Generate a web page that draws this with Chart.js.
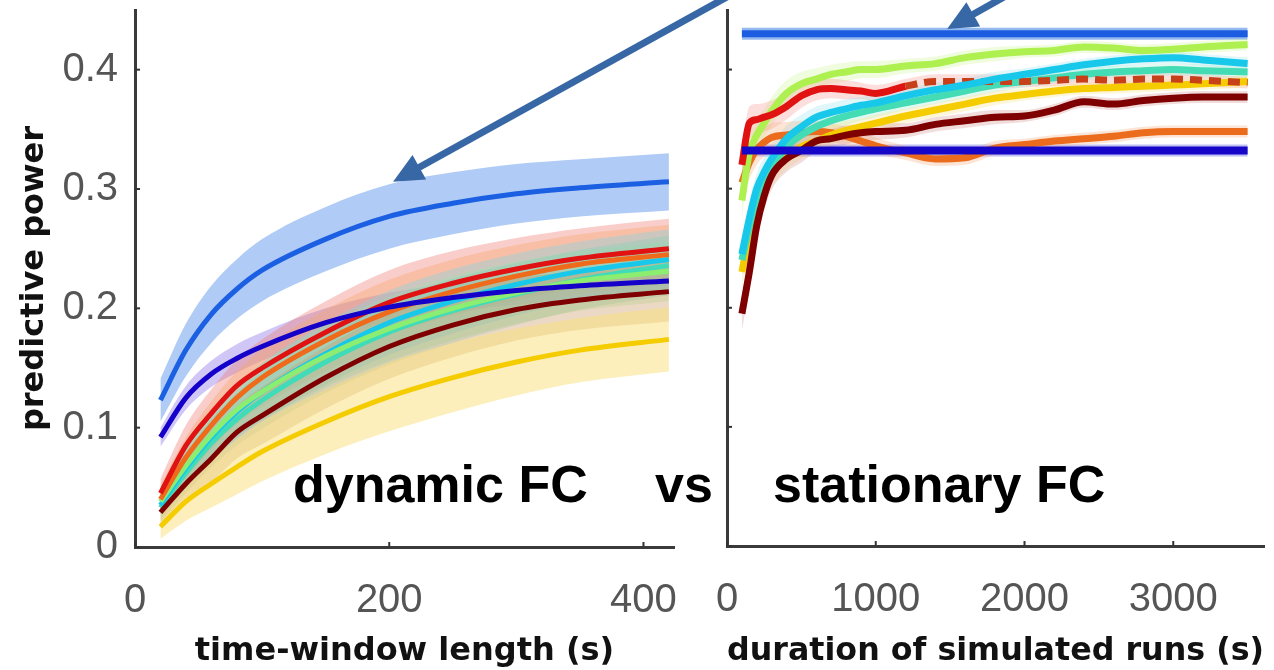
<!DOCTYPE html>
<html>
<head>
<meta charset="utf-8">
<script src="https://cdn.jsdelivr.net/npm/chart.js@4.4.0/dist/chart.umd.min.js"></script>
<style>
  html, body { margin: 0; padding: 0; background: #fff; }
  body { width: 1274px; height: 670px; position: relative; overflow: hidden; }
  #caja-dinamica { position: absolute; left: 0; top: 0; width: 700px; height: 670px; }
  #caja-estacionaria { position: absolute; left: 700px; top: 0; width: 574px; height: 670px; }
  .rotulo { position: absolute; top: 458px; font: bold 52px "Liberation Sans", Arial, sans-serif; line-height: 52px; color: #000; white-space: nowrap; }
  #flechas { position: absolute; left: 0; top: 0; pointer-events: none; }
</style>
</head>
<body>
<div id="caja-dinamica"><canvas id="graficaDinamica"></canvas></div>
<div id="caja-estacionaria"><canvas id="graficaEstacionaria"></canvas></div>
<div class="rotulo" style="left:293px">dynamic FC</div>
<div class="rotulo" style="left:655px">vs</div>
<div class="rotulo" style="left:773px">stationary FC</div>
<canvas id="flechas" width="1274" height="670"></canvas>
<script>
// --- Datos ---

// Panel izquierdo: longitud de la ventana (s)
const ventanas = [20, 40, 60, 80, 100, 150, 200, 250, 300, 350, 420];
const dinAzulClaro  = [0.123, 0.165, 0.195, 0.216, 0.232, 0.258, 0.277, 0.288, 0.296, 0.301, 0.306];
const dinAzulOscuro = [0.092, 0.125, 0.145, 0.158, 0.168, 0.188, 0.201, 0.209, 0.215, 0.219, 0.223];
const dinRojo       = [0.045, 0.085, 0.112, 0.135, 0.150, 0.180, 0.205, 0.221, 0.233, 0.242, 0.250];
const dinNaranja    = [0.040, 0.075, 0.102, 0.125, 0.142, 0.173, 0.197, 0.214, 0.227, 0.237, 0.245];
const dinVerde      = [0.038, 0.068, 0.094, 0.115, 0.130, 0.160, 0.183, 0.200, 0.213, 0.223, 0.231];
const dinCian       = [0.035, 0.066, 0.092, 0.113, 0.130, 0.162, 0.188, 0.206, 0.220, 0.231, 0.241];
const dinAgua       = [0.033, 0.062, 0.087, 0.107, 0.123, 0.155, 0.180, 0.198, 0.212, 0.224, 0.236];
const dinGranate    = [0.029, 0.053, 0.074, 0.096, 0.110, 0.142, 0.168, 0.186, 0.199, 0.207, 0.214];
const dinOro        = [0.017, 0.038, 0.053, 0.067, 0.080, 0.105, 0.126, 0.142, 0.155, 0.165, 0.174];
// semianchos de las bandas sombreadas
const errAzulClaro  = [0.018, 0.022, 0.024, 0.025, 0.026, 0.027, 0.027, 0.026, 0.025, 0.024, 0.024];
const errAzulOscuro = [0.008, 0.010, 0.011, 0.012, 0.012, 0.012, 0.012, 0.012, 0.012, 0.011, 0.011];
const errGrupo      = [0.012, 0.017, 0.020, 0.022, 0.024, 0.026, 0.027, 0.027, 0.026, 0.025, 0.025];
const errOro        = [0.010, 0.016, 0.020, 0.023, 0.025, 0.027, 0.029, 0.029, 0.028, 0.027, 0.027];

// Panel derecho: duracion de las corridas simuladas (s)
const duraciones = [100, 150, 200, 250, 300, 400, 500, 600, 700, 800, 900, 1000, 1200, 1400, 1600, 1800, 2000, 2200, 2400, 2600, 2800, 3000, 3200, 3500];
const estAzulClaro  = [0.430, 0.430, 0.430, 0.430, 0.430, 0.430, 0.430, 0.430, 0.430, 0.430, 0.430, 0.430, 0.430, 0.430, 0.430, 0.430, 0.430, 0.430, 0.430, 0.430, 0.430, 0.430, 0.430, 0.430];
const estAzulOscuro = [0.332, 0.332, 0.332, 0.332, 0.332, 0.332, 0.332, 0.332, 0.332, 0.332, 0.332, 0.332, 0.332, 0.332, 0.332, 0.332, 0.332, 0.332, 0.332, 0.332, 0.332, 0.332, 0.332, 0.332];
const estVerde   = [0.290, 0.330, 0.345, 0.355, 0.365, 0.380, 0.388, 0.392, 0.396, 0.398, 0.400, 0.400, 0.403, 0.405, 0.410, 0.413, 0.415, 0.416, 0.419, 0.418, 0.416, 0.417, 0.419, 0.421];
const estCian    = [0.245, 0.275, 0.300, 0.314, 0.325, 0.342, 0.352, 0.360, 0.364, 0.367, 0.370, 0.372, 0.378, 0.383, 0.387, 0.392, 0.396, 0.400, 0.404, 0.407, 0.409, 0.410, 0.408, 0.405];
const estAgua    = [0.240, 0.268, 0.292, 0.308, 0.318, 0.335, 0.345, 0.352, 0.357, 0.361, 0.364, 0.367, 0.372, 0.377, 0.382, 0.387, 0.390, 0.393, 0.396, 0.398, 0.399, 0.400, 0.399, 0.398];
const estRojo    = [0.320, 0.355, 0.358, 0.360, 0.362, 0.369, 0.378, 0.383, 0.384, 0.383, 0.382, 0.380, 0.386, 0.390, 0.390, 0.390, 0.390, 0.391, 0.392, 0.391, 0.392, 0.392, 0.391, 0.389];
const estNaranja = [0.305, 0.322, 0.333, 0.339, 0.343, 0.345, 0.347, 0.348, 0.347, 0.344, 0.340, 0.336, 0.330, 0.325, 0.326, 0.334, 0.337, 0.340, 0.342, 0.344, 0.347, 0.348, 0.348, 0.348];
const estOro     = [0.230, 0.262, 0.290, 0.305, 0.315, 0.327, 0.335, 0.340, 0.345, 0.349, 0.352, 0.355, 0.361, 0.366, 0.371, 0.376, 0.379, 0.382, 0.384, 0.385, 0.386, 0.387, 0.388, 0.390];
const estGranate = [0.195, 0.230, 0.269, 0.294, 0.311, 0.325, 0.332, 0.340, 0.342, 0.345, 0.347, 0.348, 0.349, 0.354, 0.357, 0.360, 0.361, 0.366, 0.373, 0.371, 0.374, 0.376, 0.377, 0.377];
const errEst     = [0.014, 0.014, 0.013, 0.012, 0.012, 0.011, 0.010, 0.009, 0.008, 0.008, 0.007, 0.007, 0.006, 0.006, 0.006, 0.006, 0.005, 0.005, 0.005, 0.005, 0.005, 0.005, 0.005, 0.005];
const errPlano   = [0.005, 0.005, 0.005, 0.005, 0.005, 0.005, 0.005, 0.005, 0.005, 0.005, 0.005, 0.005, 0.005, 0.005, 0.005, 0.005, 0.005, 0.005, 0.005, 0.005, 0.005, 0.005, 0.005, 0.005];

// Marcas de los ejes
const ticksVentana = [0, 200, 400];
const etiquetasVentana = ['0', '200', '400'];
const ticksDuracion = [0, 1000, 2000, 3000];
const etiquetasDuracion = ['0', '1000', '2000', '3000'];
const ticksPoder = [0, 0.1, 0.2, 0.3, 0.4];
const etiquetasPoder = ['0', '0.1', '0.2', '0.3', '0.4'];

// --- Construccion de datasets: banda (superior/inferior) + linea ---
function construirDatasets(xs, series, tension) {
    const datasets = [];
    const puntos = ys => xs.map((x, i) => ({ x: x, y: ys[i] }));
    series.forEach(s => {
        if (s.err) {
            datasets.push({
                data: puntos(s.y.map((v, i) => v + s.err[i])),
                borderWidth: 0, pointRadius: 0, fill: false, order: 20,
                tension: tension, cubicInterpolationMode: 'monotone'
            });
            datasets.push({
                data: puntos(s.y.map((v, i) => v - s.err[i])),
                borderWidth: 0, pointRadius: 0, fill: '-1', backgroundColor: s.banda, order: 20,
                tension: tension, cubicInterpolationMode: 'monotone'
            });
        }
        datasets.push({
            data: puntos(s.y),
            borderColor: s.color, borderWidth: s.grosor, pointRadius: 0, fill: false,
            order: s.orden, tension: tension, cubicInterpolationMode: 'monotone',
            borderCapStyle: 'butt', borderJoinStyle: 'round',
            segment: s.segment
        });
    });
    return datasets;
}

// marcas cortas hacia dentro (estilo MATLAB)
const marcasInternas = {
    id: 'marcasInternas',
    afterDraw(chart) {
        const { ctx, chartArea, scales } = chart;
        ctx.save();
        ctx.strokeStyle = '#333';
        ctx.lineWidth = 2;
        scales.x.ticks.forEach(t => {
            const px = scales.x.getPixelForValue(t.value);
            ctx.beginPath(); ctx.moveTo(px, chartArea.bottom); ctx.lineTo(px, chartArea.bottom - 5); ctx.stroke();
        });
        scales.y.ticks.forEach(t => {
            const py = scales.y.getPixelForValue(t.value);
            ctx.beginPath(); ctx.moveTo(chartArea.left, py); ctx.lineTo(chartArea.left + 5, py); ctx.stroke();
        });
        ctx.restore();
    }
};

const fuenteTicks = { family: '"Liberation Sans", Arial, sans-serif', size: 40 };
const fuenteTitulo = { family: '"DejaVu Sans", sans-serif', weight: 'bold', size: 32, lineHeight: 1 };
const bordeEje = { display: true, color: '#3a3a3a', width: 3 };

function opcionesEscalas(cfg) {
    return {
        x: {
            type: 'linear', min: 0, max: cfg.xMax,
            afterBuildTicks: s => { s.ticks = cfg.xTicks.map(v => ({ value: v })); },
            afterFit: s => { s.height = cfg.altoX; s.paddingLeft = 0; s.paddingRight = 0; },
            grid: { display: false },
            border: bordeEje,
            ticks: { font: fuenteTicks, color: '#555', padding: 22, maxRotation: 0, autoSkip: false,
                     callback: (v, i) => cfg.xEtiquetas[i] },
            title: { display: true, text: cfg.xTitulo, font: fuenteTitulo, color: '#111', padding: { top: 0, bottom: 2 } }
        },
        y: {
            min: 0, max: 0.45,
            afterBuildTicks: s => { s.ticks = ticksPoder.map(v => ({ value: v })); },
            afterFit: s => { s.width = cfg.anchoY; s.paddingTop = 0; s.paddingBottom = 0; },
            grid: { display: false },
            border: bordeEje,
            ticks: { display: cfg.conEtiquetasY, font: fuenteTicks, color: '#555', padding: 9,
                     callback: (v, i) => etiquetasPoder[i] },
            title: { display: cfg.conEtiquetasY, text: 'predictive power',
                     font: fuenteTitulo, color: '#111', padding: { top: 19, bottom: 0 } }
        }
    };
}

// 1. Panel de FC dinamica
const seriesDinamicas = [
    { y: dinOro,        err: errOro,        color: '#f4cc00', banda: 'rgba(250,224,120,0.5)',  grosor: 5, orden: 9 },
    { y: dinGranate,    err: errGrupo,      color: '#7e0000', banda: 'rgba(205,160,110,0.4)',  grosor: 5, orden: 2 },
    { y: dinAgua,       err: errGrupo,      color: '#40dcb8', banda: 'rgba(120,210,180,0.3)',  grosor: 5, orden: 7 },
    { y: dinCian,       err: errGrupo,      color: '#18c8ea', banda: 'rgba(120,215,235,0.35)', grosor: 5, orden: 6 },
    { y: dinVerde,      err: errGrupo,      color: '#8cee70', banda: 'rgba(160,235,140,0.3)',  grosor: 5, orden: 5 },
    { y: dinNaranja,    err: errGrupo,      color: '#ef6a1a', banda: 'rgba(245,165,100,0.35)', grosor: 5, orden: 4 },
    { y: dinRojo,       err: errGrupo,      color: '#e01212', banda: 'rgba(240,130,120,0.4)',  grosor: 5, orden: 3 },
    { y: dinAzulOscuro, err: errAzulOscuro, color: '#1400c8', banda: 'rgba(150,130,235,0.45)', grosor: 5, orden: 1 },
    { y: dinAzulClaro,  err: errAzulClaro,  color: '#1b5fe3', banda: 'rgba(150,185,242,0.75)', grosor: 5, orden: 1 }
];

const graficaDinamica = new Chart(document.getElementById('graficaDinamica'), {
    type: 'line',
    data: { datasets: construirDatasets(ventanas, seriesDinamicas, 0.4) },
    options: {
        responsive: true, maintainAspectRatio: false, animation: false, events: [],
        layout: { padding: { left: 0, top: 10, right: 26, bottom: 0 } },
        plugins: { legend: { display: false }, tooltip: { enabled: false } },
        scales: opcionesEscalas({
            xMax: 424, xTicks: ticksVentana, xEtiquetas: etiquetasVentana, altoX: 123,
            xTitulo: 'time-window length (s)', anchoY: 135, conEtiquetasY: true
        })
    },
    plugins: [marcasInternas]
});

// 2. Panel de FC estacionaria
const rojoPunteado = { borderDash: c => c.p0.parsed.x >= 1200 ? [12, 7] : undefined,
                       borderColor: c => c.p0.parsed.x >= 1200 ? '#c8401a' : undefined };
const seriesEstacionarias = [
    { y: estGranate,    err: errEst,   color: '#7e0000', banda: 'rgba(200,120,110,0.25)', grosor: 7, orden: 3 },
    { y: estOro,        err: errEst,   color: '#f4cc00', banda: 'rgba(250,225,130,0.3)',  grosor: 7, orden: 6 },
    { y: estNaranja,    err: errEst,   color: '#ea6c1c', banda: 'rgba(245,170,120,0.3)',  grosor: 7, orden: 7 },
    { y: estAgua,       err: errEst,   color: '#44dcb4', banda: 'rgba(140,230,200,0.25)', grosor: 7, orden: 5 },
    { y: estCian,       err: errEst,   color: '#18c8ea', banda: 'rgba(150,225,240,0.3)',  grosor: 7, orden: 4 },
    { y: estRojo,       err: errEst,   color: '#e01212', banda: 'rgba(245,150,140,0.3)',  grosor: 7, orden: 4, segment: rojoPunteado },
    { y: estVerde,      err: errEst,   color: '#aef050', banda: 'rgba(210,245,160,0.35)', grosor: 7, orden: 5 },
    { y: estAzulOscuro, err: errPlano, color: '#1606c8', banda: 'rgba(150,150,235,0.6)',  grosor: 8, orden: 1 },
    { y: estAzulClaro,  err: errPlano, color: '#1b5ce0', banda: 'rgba(120,165,235,0.8)',  grosor: 7, orden: 1 }
];

const graficaEstacionaria = new Chart(document.getElementById('graficaEstacionaria'), {
    type: 'line',
    data: { datasets: construirDatasets(duraciones, seriesEstacionarias, 0) },
    options: {
        responsive: true, maintainAspectRatio: false, animation: false, events: [],
        layout: { padding: { left: 0, top: 10, right: 10, bottom: 0 } },
        plugins: { legend: { display: false }, tooltip: { enabled: false } },
        scales: opcionesEscalas({
            xMax: 3610, xTicks: ticksDuracion, xEtiquetas: etiquetasDuracion, altoX: 124,
            xTitulo: 'duration of simulated runs (s)', anchoY: 27, conEtiquetasY: false
        })
    },
    plugins: [marcasInternas]
});

// 3. Flechas de anotacion: la punta se ubica en coordenadas de datos
const flechas = [
    { grafica: graficaDinamica, x: 203, y: 0.306, cola: [727, -3] },
    { grafica: graficaEstacionaria, x: 1480, y: 0.434, cola: [1004, -3] }
];

function dibujarFlechas() {
    const ctx = document.getElementById('flechas').getContext('2d');
    ctx.clearRect(0, 0, 1274, 670);
    flechas.forEach(f => {
        const caja = f.grafica.canvas.getBoundingClientRect();
        const px = caja.left + f.grafica.scales.x.getPixelForValue(f.x);
        const py = caja.top + f.grafica.scales.y.getPixelForValue(f.y);
        const dx = px - f.cola[0], dy = py - f.cola[1];
        const largo = Math.hypot(dx, dy);
        const ux = dx / largo, uy = dy / largo;
        const cabeza = 30, mitad = 14;
        const bx = px - ux * cabeza, by = py - uy * cabeza;
        ctx.strokeStyle = '#3867a6';
        ctx.fillStyle = '#3867a6';
        ctx.lineWidth = 7;
        ctx.beginPath(); ctx.moveTo(f.cola[0], f.cola[1]); ctx.lineTo(bx + ux * 2, by + uy * 2); ctx.stroke();
        ctx.beginPath();
        ctx.moveTo(px, py);
        ctx.lineTo(bx - uy * mitad, by + ux * mitad);
        ctx.lineTo(bx + uy * mitad, by - ux * mitad);
        ctx.closePath();
        ctx.fill();
    });
}

dibujarFlechas();
</script>
</body>
</html>
